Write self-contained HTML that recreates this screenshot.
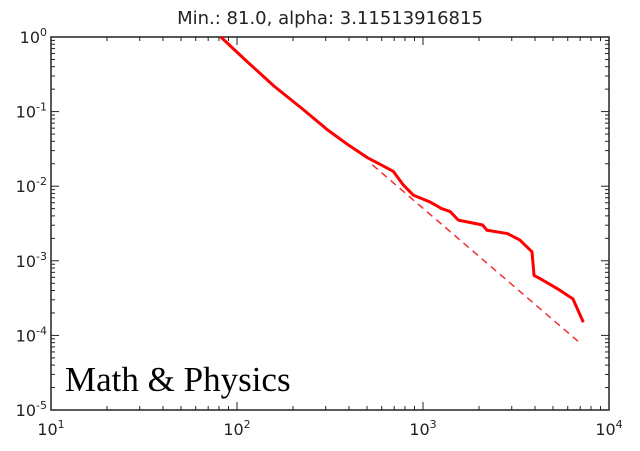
<!DOCTYPE html>
<html><head><meta charset="utf-8"><style>
body{margin:0;background:#fff;width:640px;height:446px;overflow:hidden}
svg text{font-family:"DejaVu Sans","Liberation Sans",sans-serif;fill:#222}
</style></head><body>
<svg id="chart" width="640" height="446" xmlns="http://www.w3.org/2000/svg">
<text x="330" y="24" font-size="18" text-anchor="middle">Min.: 81.0, alpha: 3.11513916815</text>
<g id="ticks"></g>
<rect x="51" y="37" width="558" height="373" fill="none" stroke="#222" stroke-width="1.5"/>
<path id="fit" fill="none" stroke="#f03030" stroke-width="1.5" stroke-dasharray="7,5"/>
<path id="emp" fill="none" stroke="#f00" stroke-width="3" stroke-linejoin="round"/>
<text x="65" y="391" font-size="35" style="font-family:'Liberation Serif',serif;fill:#000">Math &amp; Physics</text>
</svg>
<script>
const xLogs=[1.913,2.05,2.2,2.35,2.486,2.6,2.706,2.772,2.84,2.893,2.948,3.036,3.1,3.146,3.19,3.32,3.344,3.454,3.52,3.586,3.597,3.63,3.72,3.806,3.862];
const yLogs=[0,-0.32,-0.66,-0.96,-1.243,-1.45,-1.625,-1.71,-1.8,-1.98,-2.12,-2.21,-2.3,-2.34,-2.455,-2.52,-2.59,-2.635,-2.72,-2.88,-3.196,-3.24,-3.37,-3.51,-3.824];
const fitX=[2.728,3.84];
const fitY=[-1.714,-4.093];
const xTicks=[1,2,3,4];
const yTicks=[0,-1,-2,-3,-4,-5];
const L=51,R=609,T=37,B=410;
const sx=v=>L+(v-1)/3*(R-L);
const sy=v=>T+(-v)/5*(B-T);
const ns="http://www.w3.org/2000/svg";
function mk(t,a,p){const e=document.createElementNS(ns,t);for(const k in a)e.setAttribute(k,a[k]);p.appendChild(e);return e;}
document.getElementById('emp').setAttribute('d',xLogs.map((x,i)=>(i?'L':'M')+sx(x)+','+sy(yLogs[i])).join(''));
document.getElementById('fit').setAttribute('d',fitX.map((x,i)=>(i?'L':'M')+sx(x)+','+sy(fitY[i])).join(''));
const g=document.getElementById('ticks');
xTicks.forEach(t=>{
  const x=sx(t);
  for(let m=1;m<10&&t<4;m++){const xx=sx(t+Math.log10(m));const len=m==1?8:4;
    const a=mk('line',{x1:xx,x2:xx,y1:B,y2:B-len,stroke:'#222'},g);
    const b=mk('line',{x1:xx,x2:xx,y1:T,y2:T+len,stroke:'#222'},g);}
  const tx=mk('text',{x:x,y:B+25,'font-size':16,'text-anchor':'middle'},g);
  
  
  tx.innerHTML='10<tspan dy="-7" font-size="11">'+t+'</tspan>';
});
yTicks.forEach(t=>{
  const y=sy(t);
  for(let m=1;m<10&&t>-5;m++){const yy=sy(t-1+Math.log10(m));const len=m==1?8:4;
    const a=mk('line',{x1:L,x2:L+len,y1:yy,y2:yy,stroke:'#222'},g);
    const b=mk('line',{x1:R,x2:R-len,y1:yy,y2:yy,stroke:'#222'},g);}
  const tx=mk('text',{x:L-4,y:y+6,'font-size':16,'text-anchor':'end'},g);
  
  
  tx.innerHTML='10<tspan dy="-7" font-size="11">'+t+'</tspan>';
});
</script>
</body></html>
